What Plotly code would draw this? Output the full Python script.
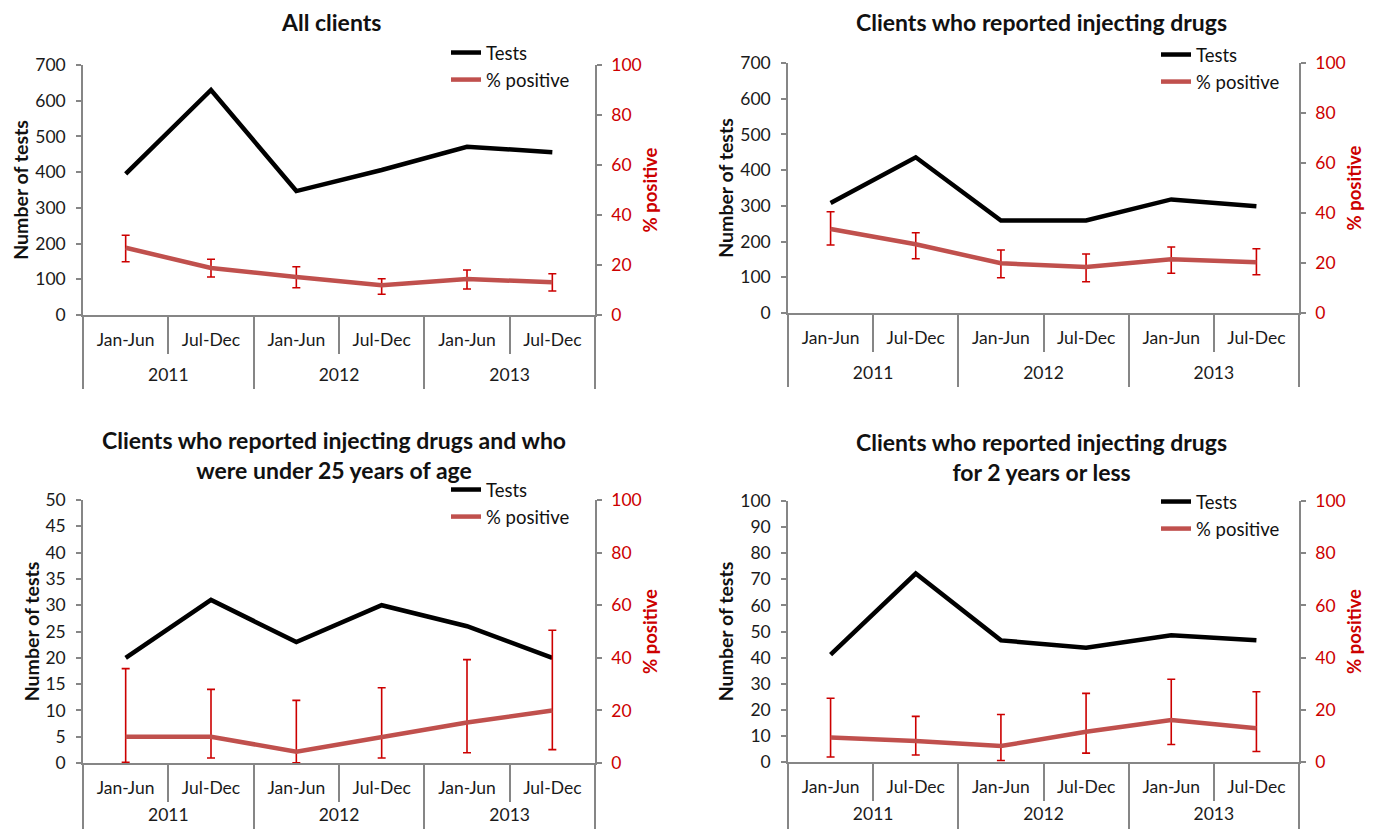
import plotly.graph_objects as go

years = ["2011", "2011", "2012", "2012", "2013", "2013"]
halves = ["Jan-Jun", "Jul-Dec", "Jan-Jun", "Jul-Dec", "Jan-Jun", "Jul-Dec"]
year_labels = ["2011", "2012", "2013"]

titles = [
    "All clients",
    "Clients who reported injecting drugs",
    "Clients who reported injecting drugs and who<br>were under 25 years of age",
    "Clients who reported injecting drugs<br>for 2 years or less",
]

tests_all = [395, 630, 347, 406, 471, 456]
pos_all = [26.9, 18.8, 15.2, 11.9, 14.4, 13.1]
pos_all_hi = [31.9, 22.3, 19.3, 14.5, 18.0, 16.5]
pos_all_lo = [21.3, 15.2, 10.9, 8.3, 10.4, 9.6]

tests_idu = [308, 436, 259, 259, 318, 299]
pos_idu = [33.6, 27.5, 19.9, 18.4, 21.5, 20.3]
pos_idu_hi = [40.5, 32.1, 25.2, 23.6, 26.4, 25.7]
pos_idu_lo = [27.2, 21.7, 14.1, 12.5, 15.9, 15.3]

tests_u25 = [20, 31, 23, 30, 26, 20]
pos_u25 = [10.0, 10.0, 4.3, 10.0, 15.4, 20.0]
pos_u25_hi = [35.9, 28.0, 23.8, 28.6, 39.3, 50.5]
pos_u25_lo = [0.3, 1.9, 0.1, 1.9, 3.9, 5.1]

tests_new = [41.1, 72.2, 46.6, 43.8, 48.6, 46.6]
pos_new = [9.4, 8.0, 6.1, 11.6, 16.1, 12.9]
pos_new_hi = [24.4, 17.5, 18.2, 26.3, 31.7, 26.9]
pos_new_lo = [1.9, 2.7, 0.6, 3.4, 6.7, 4.0]

panels = [
    (tests_all, pos_all, pos_all_hi, pos_all_lo, 700, 100),
    (tests_idu, pos_idu, pos_idu_hi, pos_idu_lo, 700, 100),
    (tests_u25, pos_u25, pos_u25_hi, pos_u25_lo, 50, 5),
    (tests_new, pos_new, pos_new_hi, pos_new_lo, 100, 10),
]

W, H = 1379, 829
OFF = 8  # page body margin of the rendered html
# plot-area boxes in page pixels: (left, right, top, bottom)
boxes = [(83, 595, 65, 315), (788, 1299, 63, 313), (83, 595, 500, 763), (788, 1299, 501, 762)]
title_xy = [(331, 22), (1041, 22), (334, 455), (1041, 457)]
legend_pos = [(446, 34), (1156, 36), (446, 471), (1156, 483)]
year_standoff = [47, 47, 39, 39]

FONT = "Lato, 'Open Sans', sans-serif"
GRAY = "#868686"
RED = "#CC0000"
TXT = "#1a1a1a"
BLACK_LINE = "#000000"
RED_LINE = "#C0504D"


def px_x(v):
    return (v - OFF) / W


def px_y(v):
    return 1 - (v - OFF) / H


# category keys (one per half-year period)
periods = [f"{y} {h}" for y, h in zip(years, halves)]
n_cat = len(periods)
n_year = len(year_labels)

fig = go.Figure()
layout = dict(
    width=W, height=H,
    margin=dict(l=0, r=0, t=0, b=0, pad=0, autoexpand=False),
    paper_bgcolor="white", plot_bgcolor="white",
    font=dict(family=FONT, size=17, color=TXT),
    annotations=[],
)

for i, (tests, pos, hi, lo, ymax, dt) in enumerate(panels):
    n = i + 1
    xa = "x" if n == 1 else f"x{n}"
    xyear = f"x{n + 4}"
    ya = "y" if n == 1 else f"y{2 * n - 1}"
    yb = f"y{2 * n}"
    leg = "legend" if n == 1 else f"legend{n}"
    fig.add_trace(go.Scatter(
        x=periods, y=tests, mode="lines", name="Tests",
        line=dict(color=BLACK_LINE, width=4.5), xaxis=xa, yaxis=ya, legend=leg,
    ))
    fig.add_trace(go.Scatter(
        x=periods, y=pos, mode="lines", name="% positive",
        line=dict(color=RED_LINE, width=4.5), xaxis=xa, yaxis=yb, legend=leg,
        error_y=dict(type="data", symmetric=False,
                     array=[h - p for h, p in zip(hi, pos)],
                     arrayminus=[p - l for p, l in zip(pos, lo)],
                     color=RED, thickness=1.6, width=4),
    ))
    # empty trace so the year-level axis is rendered
    fig.add_trace(go.Scatter(x=[], y=[], mode="lines", xaxis=xyear, yaxis=ya,
                             showlegend=False, hoverinfo="skip"))
    l, r, t, b = boxes[i]
    xd = [px_x(l), px_x(r)]
    yd = [px_y(b), px_y(t)]
    xkey = "xaxis" if n == 1 else f"xaxis{n}"
    xykey = f"xaxis{n + 4}"
    ykey = "yaxis" if n == 1 else f"yaxis{2 * n - 1}"
    y2key = f"yaxis{2 * n}"
    layout[xkey] = dict(
        domain=xd, anchor=ya, type="category",
        range=[-0.5, n_cat - 0.5],
        tickmode="array", tickvals=periods, ticktext=halves,
        showline=True, linecolor=GRAY, linewidth=1.5,
        ticks="outside", tickson="boundaries", ticklen=37, tickcolor=GRAY, tickwidth=1.5,
        ticklabelstandoff=8,
        showgrid=False, zeroline=False, tickfont=dict(size=17.5, color=TXT),
    )
    layout[xykey] = dict(
        overlaying=xa, anchor=ya, side="bottom", type="linear",
        range=[-0.5, n_year - 0.5],
        tickmode="array", tickvals=list(range(n_year)), ticktext=year_labels,
        showline=False, ticks="", showgrid=False, zeroline=False,
        minor=dict(tickmode="array", tickvals=[k - 0.5 for k in range(n_year + 1)],
                   ticks="outside", ticklen=73, tickcolor=GRAY, tickwidth=1.5, showgrid=False),
        ticklabelstandoff=year_standoff[i],
        tickfont=dict(size=17.5, color=TXT),
    )
    layout[ykey] = dict(
        domain=yd, anchor=xa, range=[0, ymax], dtick=dt,
        showline=True, linecolor=GRAY, linewidth=1.5,
        ticks="outside", ticklen=5, tickcolor=GRAY, tickwidth=1.5,
        showgrid=False, zeroline=False, ticklabelstandoff=7,
        tickfont=dict(size=17.5, color=TXT),
        title=dict(text="<b>Number of tests</b>", font=dict(size=19.5, color="#111111"), standoff=1),
    )
    layout[y2key] = dict(
        overlaying=ya, side="right", anchor=xa, range=[0, 100], dtick=20,
        showline=True, linecolor=GRAY, linewidth=1.5,
        ticks="outside", ticklen=5, tickcolor=GRAY, tickwidth=1.5,
        showgrid=False, zeroline=False, ticklabelstandoff=6,
        tickfont=dict(size=17.5, color=RED),
        title=dict(text="<b>% positive</b>", font=dict(size=18.5, color=RED), standoff=3),
    )
    lx, ly = legend_pos[i]
    layout[leg] = dict(
        x=px_x(lx), y=px_y(ly), xanchor="left", yanchor="top",
        bgcolor="rgba(0,0,0,0)", borderwidth=0,
        font=dict(size=18.5, color="#111111"), tracegroupgap=0,
    )
    tx, ty = title_xy[i]
    layout["annotations"].append(dict(
        text=f"<b>{titles[i]}</b>", x=px_x(tx), y=px_y(ty),
        xref="paper", yref="paper", showarrow=False, xanchor="center", yanchor="middle",
        font=dict(size=23, color="#111111"),
    ))

fig.update_layout(**layout)
fig.write_html("out.html")
